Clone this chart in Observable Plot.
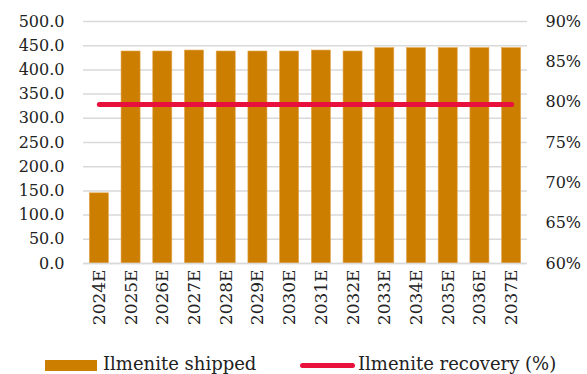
<!DOCTYPE html>
<html><head><meta charset="utf-8">
<script src="https://cdn.jsdelivr.net/npm/d3@7"></script>
<script src="https://cdn.jsdelivr.net/npm/@observablehq/plot@0.6"></script>
<style>
body{margin:0;background:#fff;font-family:"DejaVu Serif",serif;}
#wrap{position:relative;width:587px;height:374px;overflow:hidden;}
.leg{position:absolute;font-size:18px;line-height:18px;color:#222;white-space:nowrap;}
.sw{position:absolute;}
</style></head>
<body><div id="wrap"></div>
<script>
const years = ["2024E","2025E","2026E","2027E","2028E","2029E","2030E","2031E","2032E","2033E","2034E","2035E","2036E","2037E"];
const shipped = [145,438,438,440,438,438,438,440,438,445,445,445,445,445];
const recovery = [79.7,79.7,79.7,79.7,79.7,79.7,79.7,79.7,79.7,79.7,79.7,79.7,79.7,79.7];
const leftTicks = [0,50,100,150,200,250,300,350,400,450,500];
const rightTicks = [60,65,70,75,80,85,90];
const rMin = 60, rMax = 90, yMax = 500;
const toY = p => (p - rMin) / (rMax - rMin) * yMax;

const data = years.map((y,i)=>({year:y, shipped:shipped[i], rec:toY(recovery[i])}));

const plot = Plot.plot({
  width:587, height:345,
  marginTop:21, marginBottom:82, marginLeft:83, marginRight:60,
  style:{fontFamily:"DejaVu Serif, serif", fontSize:"16px", color:"#222", background:"transparent"},
  x:{domain:years, paddingInner:0.4, paddingOuter:0.2, round:false, label:null},
  y:{domain:[0,yMax], label:null},
  marks:[
    Plot.gridY(leftTicks,{stroke:"#d9d9d9", strokeOpacity:1, strokeWidth:1.5}),
    Plot.barY(data,{x:"year", y:"shipped", fill:"#CC7E00", stroke:"#E3A44A", strokeWidth:0.6}),
    Plot.ruleY([0],{stroke:"#d9d9d9", strokeWidth:1.5}),
    Plot.lineY(data,{x:"year", y:"rec", stroke:"#E8103C", strokeWidth:5, strokeLinecap:"round"}),
    Plot.axisY(leftTicks,{anchor:"left", tickSize:0, tickPadding:19, tickFormat:d=>d.toFixed(1), fontSize:16, label:null}),
    Plot.axisY(rightTicks.map(toY),{anchor:"right", tickSize:0, tickPadding:18, tickFormat:d=>Math.round(d/yMax*(rMax-rMin)+rMin)+"%", fontSize:16, label:null}),
    Plot.axisX({tickSize:0, tickPadding:6, tickRotate:-90, fontSize:17, label:null})
  ]
});
const wrap = document.getElementById("wrap");
wrap.appendChild(plot);
const add = (html)=>{const d=document.createElement("div");d.innerHTML=html;wrap.appendChild(d.firstChild);};
add('<div class="sw" style="left:45px;top:360px;width:52px;height:11px;background:#CC7E00"></div>');
add('<div class="leg" style="left:103px;top:355px">Ilmenite shipped</div>');
add('<div class="sw" style="left:300px;top:363px;width:55px;height:5px;border-radius:3px;background:#E8103C"></div>');
add('<div class="leg" style="left:358px;top:355px">Ilmenite recovery (%)</div>');
</script></body></html>
